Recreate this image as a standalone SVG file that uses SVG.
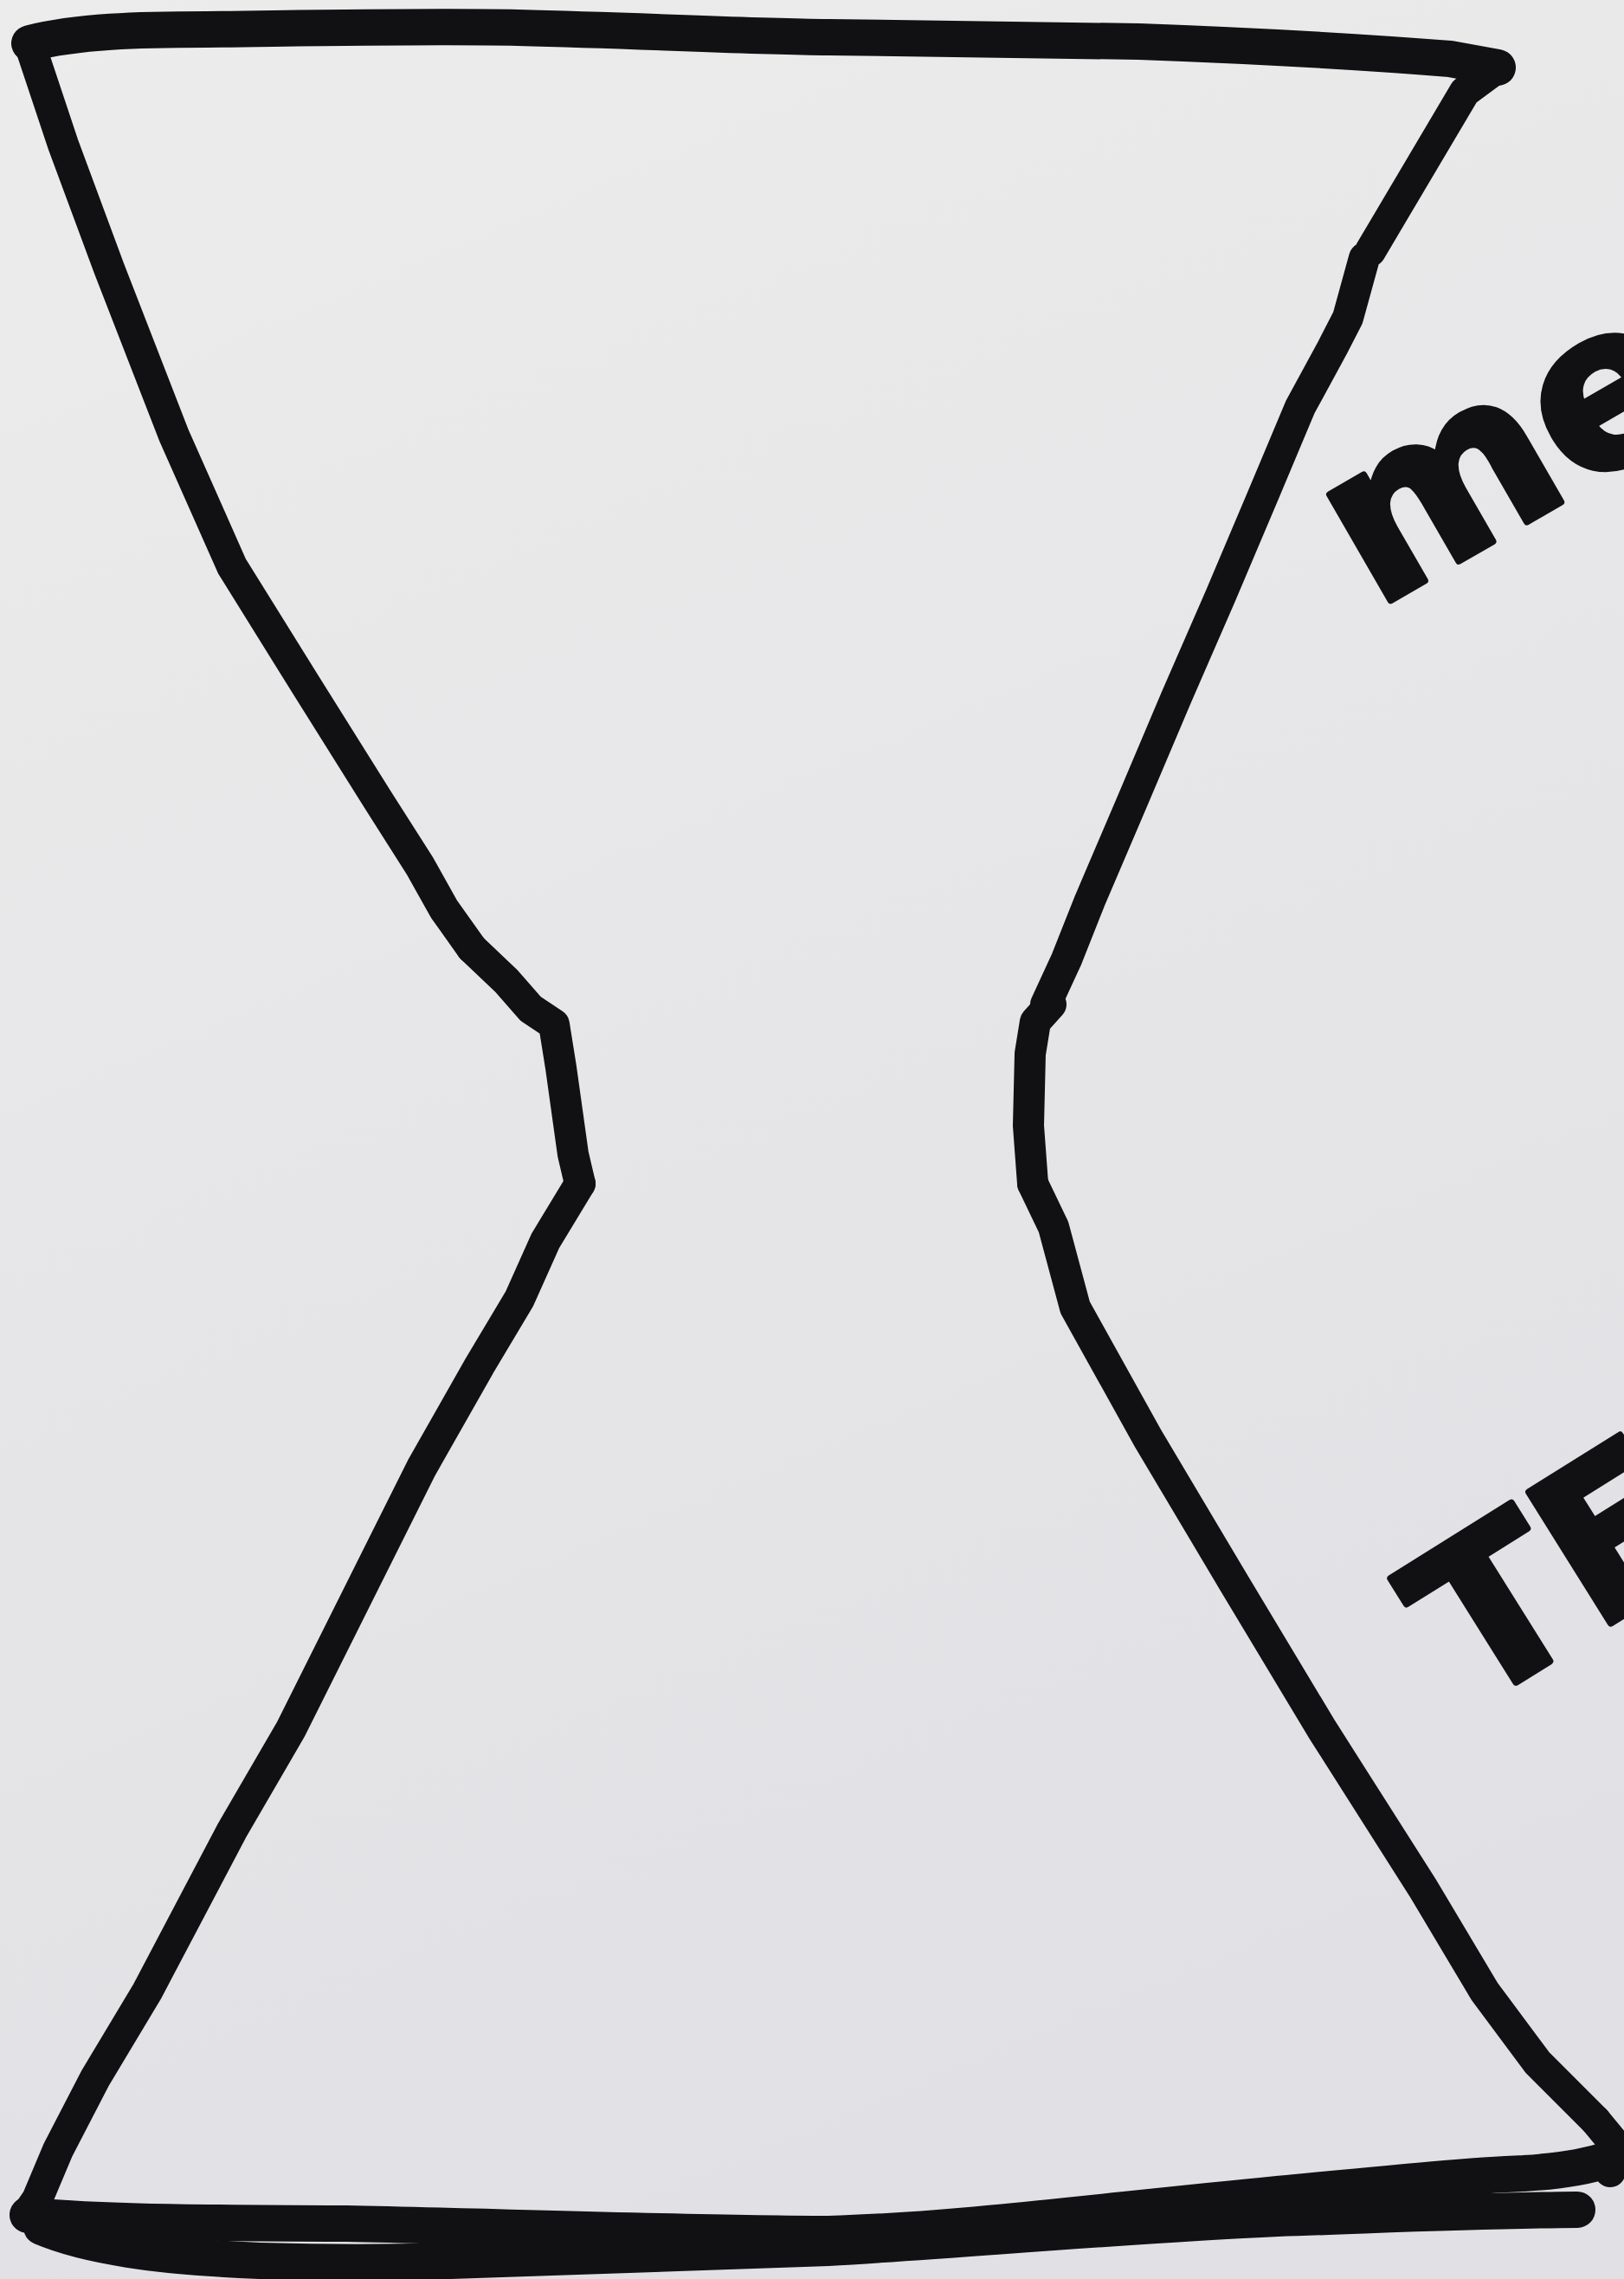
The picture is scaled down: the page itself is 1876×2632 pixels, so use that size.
<svg xmlns="http://www.w3.org/2000/svg" width="1876" height="2632" viewBox="0 0 1876 2632">
<defs>
<linearGradient id="paper" x1="0" y1="0" x2="0.3" y2="1">
<stop offset="0" stop-color="#ececec"/>
<stop offset="1" stop-color="#e1e1e5"/>
</linearGradient>
<style>
.ink{fill:none;stroke:#111113;stroke-width:36;stroke-linecap:round;stroke-linejoin:round}
.thick{stroke-width:42}
.hand{font-family:"DejaVu Sans","Liberation Sans",sans-serif;font-weight:bold;fill:#111113;stroke:#111113;stroke-width:8;stroke-linejoin:round}
</style>
</defs>
<rect width="1876" height="2632" fill="url(#paper)"/>
<g id="hourglass">
<path id="top" class="ink thick" d="M34,50 C90,36 160,34 239,34 C400,32 500,30 598,32 C760,36 860,42 957,43 C1100,45 1220,46 1316,48 C1480,54 1600,62 1675,68 L1730,78"/>
<path id="right-upper" class="ink" d="M1730,78 L1692,106 L1583,290 M1576,298 L1557,367 L1539,402 L1502,470 L1460,570 L1410,688 L1359,805 L1309,923 L1259,1040 L1232,1108 L1208,1160"/>
<path id="right-waist" class="ink" d="M1214,1160 L1196,1180 L1190,1217 L1188,1300 L1193,1367"/>
<path id="right-lower" class="ink" d="M1193,1367 L1217,1417 L1242,1510 L1326,1661 L1426,1829 L1527,1997 L1644,2181 L1715,2300 L1776,2382 L1843,2449"/>
<path id="right-corner" class="ink" d="M1843,2449 L1862,2472 L1860,2508"/>
<path id="left-upper" class="ink" d="M34,50 L73,167 L126,310 L201,503 L268,654 L352,789 L436,923 L485,1000 L513,1050 L545,1095"/>
<path id="left-waist" class="ink" d="M545,1095 L585,1133 L613,1165 L640,1183 L648,1233 L662,1333 L670,1367"/>
<path id="left-lower" class="ink" d="M670,1367 L630,1433 L600,1500 L554,1577 L487,1695 L420,1829 L336,1997 L268,2114 L170,2300 L110,2400 L67,2483 L43,2540 L32,2556"/>
<path id="bottom-a" class="ink thick" d="M32,2558 C100,2566 200,2567 400,2568 C600,2572 800,2580 957,2580 C1100,2576 1250,2556 1476,2534 C1600,2522 1700,2512 1760,2510 C1810,2507 1840,2500 1858,2494"/>
<path id="bottom-b" class="ink thick" d="M48,2572 C100,2594 180,2606 300,2611 C400,2614 460,2613 520,2611 C700,2606 850,2600 957,2596 C1100,2588 1300,2570 1476,2562 C1600,2558 1700,2553 1822,2552"/>
</g>
<g id="labels">
<text class="hand" x="1588" y="704" font-size="258" transform="rotate(-30 1588 704)">me</text>
<text class="hand" x="1700" y="1975" font-size="245" transform="rotate(-32 1700 1975)">TE</text>
</g>
</svg>
